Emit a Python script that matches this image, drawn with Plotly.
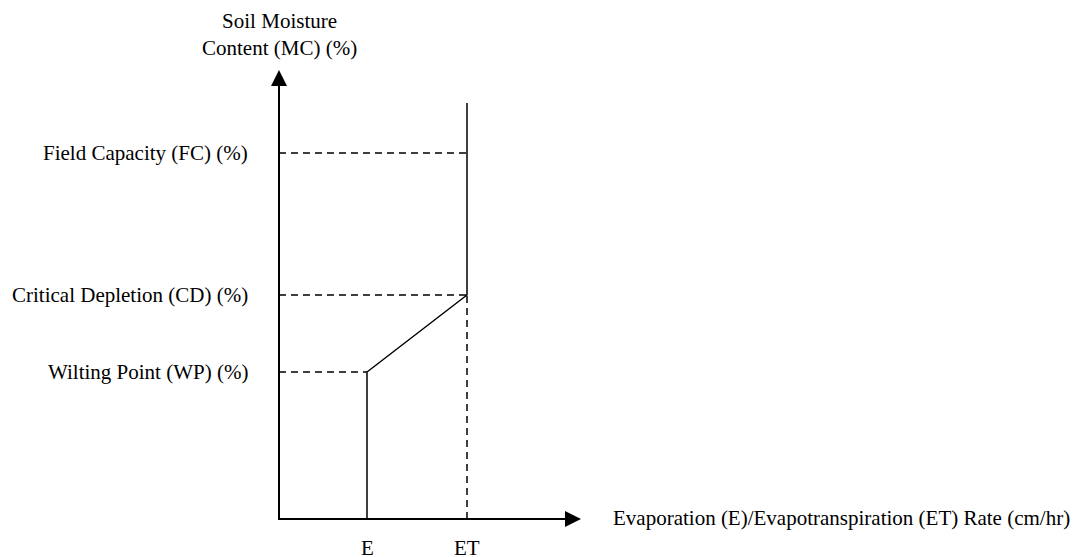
import plotly.graph_objects as go

# ---- data (arbitrary conceptual units) ----
rate_labels = ["E", "ET"]
rate_values = [2.2, 4.7]                      # E rate, ET rate
moisture_labels = ["Field Capacity (FC) (%)",
                   "Critical Depletion (CD) (%)",
                   "Wilting Point (WP) (%)"]
moisture_values = [36.6, 22.4, 14.7]          # FC, CD, WP
curve_x = [2.2, 2.2, 4.7, 4.7]                # rate response curve
curve_y = [0.0, 14.7, 22.4, 41.6]
x_axis_end = 7.55
y_axis_end = 44.9
x_title = "Evaporation (E)/Evapotranspiration (ET) Rate (cm/hr)"
y_title = "Soil Moisture<br>Content (MC) (%)"

E, ET = rate_values
FC, CD, WP = moisture_values

FONT = dict(family="Liberation Serif, Times New Roman, serif", size=21, color="black")
DASH = "7px,5px"

fig = go.Figure()

# axes (L shape)
fig.add_trace(go.Scatter(x=[0, 0, x_axis_end - 0.3], y=[y_axis_end - 1.2, 0, 0],
                         mode="lines", line=dict(color="black", width=2),
                         hoverinfo="skip", showlegend=False))

# dashed guide lines
guides = [
    ([0, ET], [FC, FC]),
    ([0, ET], [CD, CD]),
    ([0, E], [WP, WP]),
    ([ET, ET], [0, CD]),
]
for gx, gy in guides:
    fig.add_trace(go.Scatter(x=gx, y=gy, mode="lines",
                             line=dict(color="black", width=1.5, dash=DASH),
                             hoverinfo="skip", showlegend=False))

# response curve
fig.add_trace(go.Scatter(x=curve_x, y=curve_y, mode="lines",
                         line=dict(color="black", width=1.5),
                         hoverinfo="skip", showlegend=False))

annotations = []
# arrow heads
annotations.append(dict(x=x_axis_end, y=0, ax=x_axis_end - 1.0, ay=0,
                        xref="x", yref="y", axref="x", ayref="y", text="",
                        showarrow=True, arrowhead=2, arrowsize=1.6, arrowwidth=2,
                        arrowcolor="black"))
annotations.append(dict(x=0, y=y_axis_end, ax=0, ay=y_axis_end - 4.0,
                        xref="x", yref="y", axref="x", ayref="y", text="",
                        showarrow=True, arrowhead=2, arrowsize=1.6, arrowwidth=2,
                        arrowcolor="black"))

# moisture labels
for lab, val in zip(moisture_labels, moisture_values):
    annotations.append(dict(x=-0.72, y=val, xref="x", yref="y", text=lab,
                            showarrow=False, xanchor="right", yanchor="middle",
                            font=FONT))
# rate labels
for lab, val in zip(rate_labels, rate_values):
    annotations.append(dict(x=val, y=-2.9, xref="x", yref="y", text=lab,
                            showarrow=False, xanchor="center", yanchor="middle",
                            font=FONT))
# titles
annotations.append(dict(x=0, y=48.5, xref="x", yref="y", text=y_title,
                        showarrow=False, xanchor="center", yanchor="middle",
                        font=FONT))
annotations.append(dict(x=8.3, y=0.1, xref="x", yref="y", text=x_title,
                        showarrow=False, xanchor="left", yanchor="middle",
                        font=FONT))

fig.update_layout(
    width=1071, height=549,
    margin=dict(l=0, r=0, t=0, b=0),
    paper_bgcolor="white", plot_bgcolor="white",
    xaxis=dict(range=[-6.775, 20.0], visible=False, fixedrange=True),
    yaxis=dict(range=[-3.8, 51.1], visible=False, fixedrange=True),
    annotations=annotations,
    showlegend=False,
)

fig.write_html("out.html")
